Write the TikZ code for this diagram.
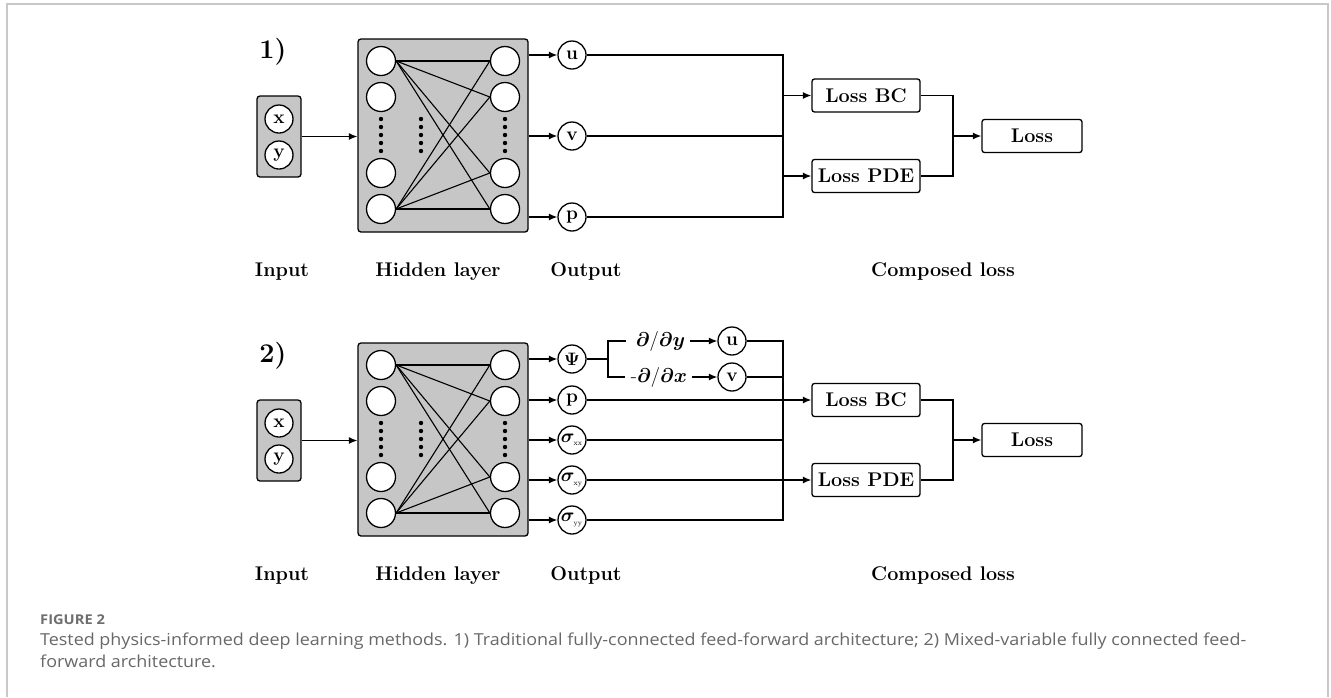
\RequirePackage{fix-cm}
\documentclass[tikz,border=0pt]{standalone}
\usepackage{amsmath}
\usepackage{bm}
\usepackage{fontspec}
\usepackage{graphicx}
\usetikzlibrary{arrows.meta,calc}
\newfontfamily\capfont{Open Sans}
\definecolor{boxgray}{HTML}{C6C6C6}
\definecolor{framegray}{HTML}{C8C8C8}
\definecolor{capgray}{HTML}{686868}
\definecolor{figgray}{HTML}{6E6E6E}
\newlength\capwd
\newcommand\capone{Tested physics-informed deep learning methods. 1) Traditional fully-connected feed-forward architecture; 2) Mixed-variable fully connected feed-}
\newcommand\captwo{forward architecture.}
\tikzset{
  net/.style={draw, line width=1.1pt},
  wire/.style={draw, line width=1.3pt},
  arr/.style={-{Latex[length=8.5pt,width=7pt]}, line width=1.3pt},
  graybox/.style={draw, fill=boxgray, rounded corners=3pt, line width=1.3pt, inner sep=0pt},
  neuron/.style={circle, draw, fill=white, line width=1.3pt, minimum size=29pt, inner sep=0pt},
  io/.style={circle, draw, fill=white, line width=1.3pt, minimum size=28pt, inner sep=0pt, font=\bfseries\fontsize{19}{21}\selectfont},
  lossbox/.style={draw, fill=white, rounded corners=2.5pt, line width=1.3pt, minimum height=33pt, inner sep=0pt, font=\bfseries\fontsize{19.8}{22}\selectfont},
  lbl/.style={anchor=base, inner sep=0pt, font=\bfseries\fontsize{19.8}{22}\selectfont},
  numlbl/.style={inner sep=0pt, font=\bfseries\fontsize{27}{30}\selectfont},
  deriv/.style={inner sep=0pt, font=\fontsize{20}{22}\selectfont},
  captxt/.style={anchor=base west, inner sep=0pt, text=capgray, font=\capfont\fontsize{16.5}{19}\selectfont},
}
\newcommand\mynetpanel[2]{%
  \node[numlbl] (#1num) at (273,52) {#2};
  \node[graybox, minimum width=44pt, minimum height=81pt] (#1in) at (279,136.5) {};
  \node[io] (#1x) at (279,119) {x};
  \node[io] (#1y) at (279,155) {y};
  \node[graybox, minimum width=170pt, minimum height=193pt] (#1hid) at (443,135.5) {};
  \foreach \k/\yy in {1/61,2/97,3/173,4/209}{%
    \node[neuron] (#1L\k) at (381,\yy) {};
    \node[neuron] (#1R\k) at (505,\yy) {};
  }
  \foreach \yy in {119,127,135,143,151}{%
    \foreach \xx in {381,421,505}{\fill (\xx,\yy) circle[radius=2.2pt];}
  }
  \foreach \l in {1,4}{%
    \foreach \r in {1,2,3,4}{\draw[net] (#1L\l.east) -- (#1R\r.west);}
  }
  \draw[arr] (#1in.east) -- (#1in.east -| #1hid.west);
  \node[lbl] (#1lin) at (282,276) {Input};
  \node[lbl] (#1lhid) at (438,276) {Hidden layer};
  \node[lbl] (#1lout) at (586,276) {Output};
  \node[lbl] (#1lloss) at (943,276) {Composed loss};
}
\begin{document}
\begin{tikzpicture}[x=1pt,y=-1pt]
\useasboundingbox (0,0) rectangle (1331,697);
\fill[white] (0,0) rectangle (1331,697);
\draw[framegray, line width=1.5pt] (7,697) -- (7,4) -- (1328,4) -- (1328,697);

% ---------- panel 1 ----------
\mynetpanel{a}{1)}
\node[io] (au) at (572,55) {u};
\node[io] (av) at (572,136) {v};
\node[io] (ap) at (572,217) {p};
\foreach \n in {au,av,ap}{\draw[arr] (ahid.east |- \n) -- (\n);}
\coordinate (abusT) at (783,55);
\coordinate (abusB) at (783,217);
\draw[wire] (au) -- (abusT) -- (abusB) -- (ap);
\draw[wire] (av) -- (av -| abusT);
\node[lossbox, minimum width=108pt] (abc) at (866,95.5) {Loss BC};
\node[lossbox, minimum width=108pt] (apde) at (866,176) {Loss PDE};
\node[lossbox, minimum width=100pt] (aloss) at (1032,136) {Loss};
\draw[arr] (abc.west -| abusT) -- (abc.west);
\draw[arr] (apde.west -| abusT) -- (apde.west);
\coordinate (ajT) at (953,95.5);
\coordinate (ajB) at (953,176);
\coordinate (ajM) at (953,136);
\draw[wire] (abc.east) -- (ajT) -- (ajB) -- (apde.east);
\draw[arr] (ajM) -- (aloss.west);

% ---------- panel 2 ----------
\begin{scope}[yshift=-304pt]
\mynetpanel{b}{2)}
\end{scope}
\node[io, font=\fontsize{18}{20}\selectfont] (bpsi) at (572,359) {$\bm{\Psi}$};
\node[io] (bp) at (572,400) {p};
\node[io] (bsxx) at (572,440) {\kern-1pt$\bm{\sigma}$\kern-1pt\raisebox{-3.5pt}{\fontsize{7.5}{8}\selectfont\mdseries xx}};
\node[io] (bsxy) at (572,480) {\kern-1pt$\bm{\sigma}$\kern-1pt\raisebox{-3.5pt}{\fontsize{7.5}{8}\selectfont\mdseries xy}};
\node[io] (bsyy) at (572,520) {\kern-1pt$\bm{\sigma}$\kern-1pt\raisebox{-3.5pt}{\fontsize{7.5}{8}\selectfont\mdseries yy}};
\foreach \n in {bpsi,bp,bsxx,bsxy,bsyy}{\draw[arr] (bhid.east |- \n) -- (\n);}
\coordinate (bfork) at (608,359);
\node[deriv] (bdy) at (660.5,341) {$\bm{\partial}/\bm{\partial y}$};
\node[deriv] (bdx) at (659,377) {-$\bm{\partial}/\bm{\partial x}$};
\draw[wire] (bpsi) -- (bfork);
\draw[wire, shorten <=10pt, shorten >=6pt] (bdy.west) -| (bfork) |- (bdx.west);
\node[io] (bu) at (732,341) {u};
\node[io] (bv) at (732,377) {v};
\draw[arr, shorten <=5pt] (bdy.east) -- (bu);
\draw[arr, shorten <=5pt] (bdx.east) -- (bv);
\coordinate (bbusT) at (783,341);
\coordinate (bbusB) at (783,520);
\draw[wire] (bu) -- (bbusT) -- (bbusB) -- (bsyy);
\draw[wire] (bv) -- (bv -| bbusT);
\draw[wire] (bsxx) -- (bsxx -| bbusT);
\node[lossbox, minimum width=108pt] (bbc) at (866,400) {Loss BC};
\node[lossbox, minimum width=108pt] (bpde) at (866,480) {Loss PDE};
\node[lossbox, minimum width=100pt] (bloss) at (1032,440) {Loss};
\draw[arr] (bp) -- (bbc.west);
\draw[arr] (bsxy) -- (bpde.west);
\coordinate (bjT) at (953,400);
\coordinate (bjB) at (953,480);
\coordinate (bjM) at (953,440);
\draw[wire] (bbc.east) -- (bjT) -- (bjB) -- (bpde.east);
\draw[arr] (bjM) -- (bloss.west);

% ---------- caption ----------
\node[captxt] (cl1) at (40,645) {\settowidth{\capwd}{\capone}\pgfmathsetmacro\capscale{1206/\capwd}\global\let\capscaleg\capscale\scalebox{\capscale}[1]{\capone}};
\node[captxt, text=figgray, font=\capfont\bfseries\fontsize{13.5}{16}\selectfont] (cfig) at (40,624) {\scalebox{\capscaleg}[1]{FIGURE 2}};
\node[captxt] (cl2) at (40,667) {\scalebox{\capscaleg}[1]{\captwo}};
\end{tikzpicture}
\end{document}
